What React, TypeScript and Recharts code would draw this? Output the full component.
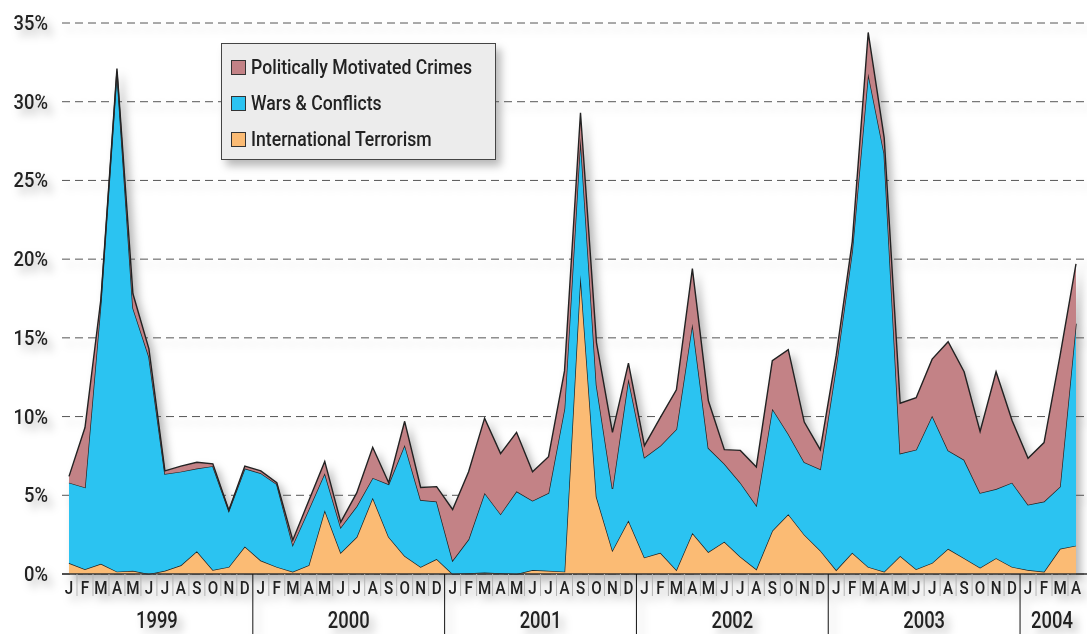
import React from "react";
import { AreaChart, Area, XAxis, YAxis, CartesianGrid, Legend } from "recharts";

const years = [1999, 2000, 2001, 2002, 2003, 2004];
const monthsPerYear = [12, 12, 12, 12, 12, 4];
const monthLetters = ["J", "F", "M", "A", "M", "J", "J", "A", "S", "O", "N", "D"];

// share in %, Jan 1999 .. Apr 2004
const terrorism = [
  0.7, 0.3, 0.65, 0.15, 0.2, 0.0, 0.2, 0.55, 1.45, 0.25, 0.45, 1.75,
  0.85, 0.45, 0.15, 0.55, 4.05, 1.35, 2.35, 4.85, 2.35, 1.15, 0.45, 0.95,
  0.0, 0.05, 0.1, 0.05, 0.0, 0.25, 0.2, 0.15, 19.0, 4.9, 1.5, 3.4,
  1.05, 1.35, 0.25, 2.6, 1.4, 2.05, 1.1, 0.3, 2.75, 3.8, 2.5, 1.5,
  0.25, 1.35, 0.45, 0.15, 1.15, 0.3, 0.7, 1.6, 1.0, 0.4, 1.0, 0.45,
  0.25, 0.15, 1.6, 1.8,
];
const warsConflicts = [
  5.1, 5.2, 16.65, 31.75, 16.7, 13.8, 6.15, 5.95, 5.25, 6.6, 3.55, 4.95,
  5.55, 5.25, 1.7, 3.55, 2.35, 1.6, 1.95, 1.25, 3.35, 7.05, 4.25, 3.65,
  0.85, 2.15, 5.05, 3.75, 5.25, 4.4, 4.95, 10.35, 8.7, 7.1, 3.9, 9.0,
  6.35, 6.8, 8.95, 13.3, 6.6, 4.95, 4.7, 4.05, 7.75, 5.1, 4.6, 5.15,
  12.95, 19.15, 31.35, 26.55, 6.5, 7.6, 9.35, 6.25, 6.25, 4.75, 4.4, 5.35,
  4.15, 4.45, 3.95, 14.1,
];
const political = [
  0.4, 3.8, 0.2, 0.2, 0.9, 0.5, 0.2, 0.35, 0.4, 0.15, 0.05, 0.15,
  0.15, 0.1, 0.3, 0.55, 0.75, 0.35, 0.85, 1.95, 0.1, 1.5, 0.8, 0.95,
  3.25, 4.3, 4.75, 3.85, 3.75, 1.85, 2.3, 2.4, 1.6, 2.7, 3.6, 1.0,
  0.75, 1.8, 2.5, 3.5, 3.0, 0.9, 2.05, 2.45, 3.05, 5.35, 2.55, 1.25,
  0.7, 0.6, 2.6, 1.0, 3.2, 3.3, 3.6, 6.9, 5.6, 3.9, 7.45, 3.95,
  2.95, 3.75, 8.3, 3.8,
];
const yTicks = [0, 5, 10, 15, 20, 25, 30, 35];

const seriesNames = {
  political: "Politically Motivated Crimes",
  wars: "Wars & Conflicts",
  terror: "International Terrorism",
};
const colors = { political: "#c38286", wars: "#2bc3f1", terror: "#fbbb74" };

const data = years
  .flatMap((yr, yi) =>
    Array.from({ length: monthsPerYear[yi] }, (_, m) => ({
      key: `${yr}-${m}`,
      month: monthLetters[m],
      year: yr,
      yearIdx: yi,
      monthIdx: m,
    }))
  )
  .map((d, i) => ({
    ...d,
    terror: terrorism[i],
    wars: warsConflicts[i],
    political: political[i],
  }));

const W = 1087;
const H = 634;
const PLOT_LEFT = 62;
const AXIS_Y = 574;
const PAD_L = 7;
const PAD_R = 11;
const STEP = (W - PLOT_LEFT - PAD_L - PAD_R) / (data.length - 1);
const FONT = "Roboto, 'Liberation Sans', sans-serif";
const INK = "#222";

const MonthTick = (props: any) => {
  const { x, index } = props;
  const d = data[index];
  if (!d) return null;
  const isLast = index === data.length - 1;
  const n = monthsPerYear[d.yearIdx];
  return (
    <g>
      <text
        transform={`translate(${x},${AXIS_Y + 20}) scale(0.8,1)`}
        textAnchor="middle"
        fontFamily={FONT}
        fontSize={19}
        fontWeight={500}
        fill={INK}
      >
        {d.month}
      </text>
      {!isLast && d.monthIdx !== n - 1 && (
        <line x1={x + STEP / 2} x2={x + STEP / 2} y1={AXIS_Y} y2={AXIS_Y + 22} stroke="#b5b5b5" />
      )}
      {d.monthIdx === n - 1 && !isLast && (
        <line x1={x + STEP / 2} x2={x + STEP / 2} y1={AXIS_Y} y2={H} stroke="#111" />
      )}
      {d.monthIdx === 0 && (
        <text
          transform={`translate(${x + ((n - 1) / 2) * STEP},${AXIS_Y + 54}) scale(0.8,1)`}
          textAnchor="middle"
          fontFamily={FONT}
          fontSize={23}
          fontWeight={500}
          fill={INK}
        >
          {d.year}
        </text>
      )}
    </g>
  );
};

const PctTick = (props: any) => {
  const { y, payload } = props;
  return (
    <text
      transform={`translate(48,${y + 7}) scale(0.92,1)`}
      textAnchor="end"
      fontFamily={FONT}
      fontSize={20}
      fontWeight={500}
      fill={INK}
    >
      {`${payload.value}%`}
    </text>
  );
};

const LegendBox = () => {
  const rows: Array<keyof typeof seriesNames> = ["political", "wars", "terror"];
  return (
    <div
      style={{
        width: 275,
        height: 117,
        boxSizing: "border-box",
        background: "#ececec",
        border: "1px solid #444",
        paddingTop: 5,
        fontFamily: FONT,
      }}
    >
      {rows.map((k) => (
        <div key={k} style={{ display: "flex", alignItems: "center", height: 36, paddingLeft: 9 }}>
          <span
            style={{
              width: 13,
              height: 13,
              flexShrink: 0,
              background: colors[k],
              border: "1px solid #333",
              display: "inline-block",
              marginRight: 5,
            }}
          />
          <span
            style={{
              display: "inline-block",
              fontSize: 21,
              fontWeight: 500,
              color: INK,
              transform: "scaleX(0.84)",
              transformOrigin: "left center",
              whiteSpace: "nowrap",
            }}
          >
            {seriesNames[k]}
          </span>
        </div>
      ))}
    </div>
  );
};

export default function App() {
  return (
    <div
      style={{
        position: "absolute",
        left: 0,
        top: 0,
        filter: "drop-shadow(5px 6px 4px rgba(0,0,0,0.28))",
      }}
    >
      <AreaChart width={W} height={H} data={data} margin={{ top: 23, right: 0, bottom: 0, left: 0 }}>
        <CartesianGrid horizontal vertical={false} stroke="#555" strokeDasharray="8 5" />
        <XAxis
          dataKey="key"
          height={H - AXIS_Y}
          interval={0}
          padding={{ left: PAD_L, right: PAD_R }}
          tick={<MonthTick />}
          tickLine={false}
          axisLine={{ stroke: "#333", strokeWidth: 1.5 }}
        />
        <YAxis
          width={PLOT_LEFT}
          domain={[0, 35]}
          ticks={yTicks}
          tick={<PctTick />}
          tickLine={false}
          axisLine={false}
        />
        <Legend
          layout="vertical"
          align="center"
          verticalAlign="middle"
          content={<LegendBox />}
          wrapperStyle={{ position: "absolute", left: 221, top: 43, width: 275, height: 117 }}
        />
        <Area
          type="linear"
          dataKey="terror"
          stackId="1"
          name={seriesNames.terror}
          fill={colors.terror}
          fillOpacity={1}
          stroke="#222"
          strokeWidth={1.4}
          isAnimationActive={false}
        />
        <Area
          type="linear"
          dataKey="wars"
          stackId="1"
          name={seriesNames.wars}
          fill={colors.wars}
          fillOpacity={1}
          stroke="#222"
          strokeWidth={1.4}
          isAnimationActive={false}
        />
        <Area
          type="linear"
          dataKey="political"
          stackId="1"
          name={seriesNames.political}
          fill={colors.political}
          fillOpacity={1}
          stroke="#222"
          strokeWidth={1.4}
          isAnimationActive={false}
        />
      </AreaChart>
    </div>
  );
}
